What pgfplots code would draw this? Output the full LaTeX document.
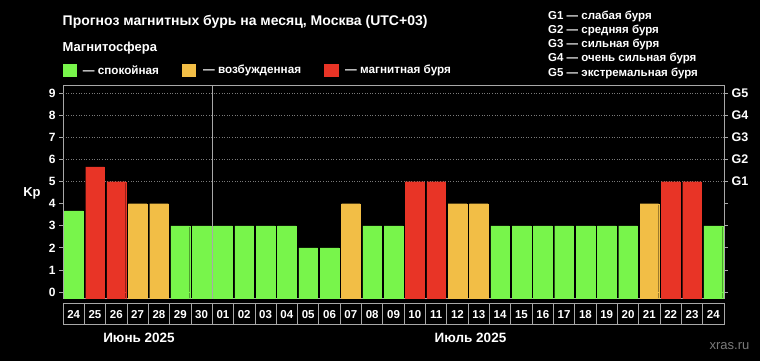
\documentclass[border=0pt]{standalone}
\usepackage{pgfplots}
\usepackage{pgfplotstable}
\pgfplotsset{compat=1.18}
\usepackage{fontspec}
\setmainfont{Liberation Sans}
\definecolor{cgreen}{HTML}{78F54B}
\definecolor{corange}{HTML}{F2BE46}
\definecolor{cred}{HTML}{E83426}
\definecolor{framegray}{HTML}{A8A8A8}
\definecolor{gridgray}{HTML}{7A7A7A}
\pgfplotstableread{
x y
0 3.67
5 3
6 3
7 3
8 3
9 3
10 3
11 2
12 2
14 3
15 3
20 3
21 3
22 3
23 3
24 3
25 3
26 3
30 3
}\greendata
\pgfplotstableread{
x y
3 4
4 4
13 4
18 4
19 4
27 4
}\orangedata
\pgfplotstableread{
x y
1 5.67
2 5
16 5
17 5
28 5
29 5
}\reddata
\begin{document}
\begin{tikzpicture}[x=1pt,y=1pt]
\fill[black] (0,0) rectangle (760,361);
\node[anchor=west, text=white, inner sep=0pt, font=\bfseries\fontsize{14}{16}\selectfont] at (62.5,339.3) {Прогноз магнитных бурь на месяц, Москва (UTC+03)};
\node[anchor=west, text=white, inner sep=0pt, font=\bfseries\fontsize{13}{15}\selectfont] at (62.5,312.7) {Магнитосфера};
\fill[cgreen] (62.7,283.7) rectangle (76.7,296.7);
\node[anchor=west, text=white, inner sep=0pt, font=\bfseries\fontsize{11.7}{14}\selectfont] at (82.7,290.7) {— спокойная};
\fill[corange] (181.7,283.7) rectangle (196,296.7);
\node[anchor=west, text=white, inner sep=0pt, font=\bfseries\fontsize{11.7}{14}\selectfont] at (203,290.7) {— возбужденная};
\fill[cred] (324.3,283.7) rectangle (339.3,296.7);
\node[anchor=west, text=white, inner sep=0pt, font=\bfseries\fontsize{11.7}{14}\selectfont] at (345,290.7) {— магнитная буря};
\foreach \t [count=\i from 0] in {G1 — слабая буря, G2 — средняя буря, G3 — сильная буря, G4 — очень сильная буря, G5 — экстремальная буря}
  \node[anchor=west, text=white, inner sep=0pt, font=\bfseries\fontsize{11.5}{13}\selectfont] at (548,{345-14.25*\i}) {\t};
\node[text=white, inner sep=0pt, font=\bfseries\fontsize{13}{15}\selectfont] at (32,168) {Kp};
\node[text=white, inner sep=0pt, font=\bfseries\fontsize{13.5}{15}\selectfont] at (139,23.5) {Июнь 2025};
\node[text=white, inner sep=0pt, font=\bfseries\fontsize{13.5}{15}\selectfont] at (470.5,23.5) {Июль 2025};
\node[text=gridgray, inner sep=0pt, font=\fontsize{13}{15}\selectfont] at (729.5,15.3) {xras.ru};
\begin{axis}[
  at={(63pt,62pt)}, anchor=south west,
  width=661pt, height=214pt, scale only axis,
  xmin=-0.5, xmax=30.5, ymin=-0.317, ymax=9.375,
  axis line style={draw=framegray, line width=1pt},
  xtick={0,...,30},
  xticklabels={24,25,26,27,28,29,30,01,02,03,04,05,06,07,08,09,10,11,12,13,14,15,16,17,18,19,20,21,22,23,24},
  major x tick style={draw=none},
  xticklabel style={draw=framegray, line width=0.8pt, minimum width=21.32pt, minimum height=21.5pt, inner sep=0pt, anchor=north, text=white, font=\bfseries\fontsize{11.5}{13}\selectfont},
  ytick={0,...,9},
  ytick pos=left,
  tick align=outside,
  major tick length=4pt,
  major y tick style={draw=framegray, line width=0.8pt},
  yticklabel style={text=white, font=\bfseries\fontsize{12}{14}\selectfont},
  /pgf/number format/assume math mode=true,
  clip=true,
]
\foreach \g in {5,...,9} {
  \edef\tmp{\noexpand\draw[gridgray, dotted, line width=0.6pt] (axis cs:-0.5,\g) -- (axis cs:30.5,\g);}
  \tmp
}
\addplot[ybar, bar width=0.877, bar shift=0pt, fill=cgreen, draw=cgreen, line width=0.2pt] table[x=x,y=y]{\greendata};
\addplot[ybar, bar width=0.877, bar shift=0pt, fill=cgreen, draw=cgreen, line width=0.2pt] table[x=x,y expr=-0.317]{\greendata};
\addplot[ybar, bar width=0.877, bar shift=0pt, fill=corange, draw=corange, line width=0.2pt] table[x=x,y=y]{\orangedata};
\addplot[ybar, bar width=0.877, bar shift=0pt, fill=corange, draw=corange, line width=0.2pt] table[x=x,y expr=-0.317]{\orangedata};
\addplot[ybar, bar width=0.877, bar shift=0pt, fill=cred, draw=cred, line width=0.2pt] table[x=x,y=y]{\reddata};
\addplot[ybar, bar width=0.877, bar shift=0pt, fill=cred, draw=cred, line width=0.2pt] table[x=x,y expr=-0.317]{\reddata};
\draw[framegray, line width=1pt] (axis cs:6.5,-0.317) -- (axis cs:6.5,9.375);
\end{axis}
\begin{axis}[
  at={(63pt,62pt)}, anchor=south west,
  width=661pt, height=214pt, scale only axis,
  xmin=-0.5, xmax=30.5, ymin=-0.317, ymax=9.375,
  axis x line=none, axis y line*=right,
  axis line style={draw=framegray, line width=1pt},
  ytick={0,...,9},
  yticklabels={,,,,,G1,G2,G3,G4,G5},
  tick align=outside,
  major tick length=4pt,
  major y tick style={draw=framegray, line width=0.8pt},
  yticklabel style={text=white, font=\bfseries\fontsize{12.5}{14}\selectfont},
]
\end{axis}
\end{tikzpicture}
\end{document}
